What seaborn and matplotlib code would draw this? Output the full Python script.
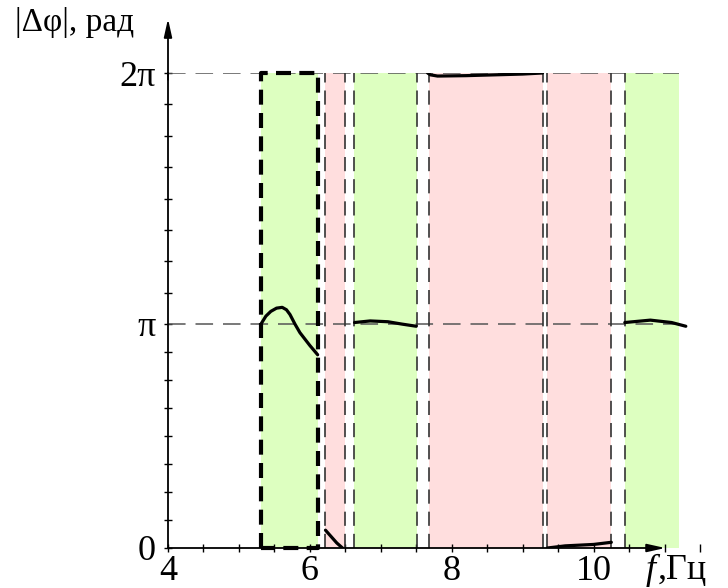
import numpy as np
import pandas as pd
import matplotlib
matplotlib.use("Agg")
import matplotlib.pyplot as plt
from matplotlib.ticker import FixedLocator, MultipleLocator
import seaborn as sns

PI = np.pi

# ---------------- data ----------------
x_ticks = [4, 6, 8, 10]
y_ticks = [0, PI, 2 * PI]
y_tick_labels = ["0", "π", "2π"]

# shaded frequency bands (start, end)
green_bands = [(5.31, 6.11), (6.62, 7.51), (10.44, 11.21)]
pink_bands = [(6.21, 6.49), (7.68, 9.28), (9.35, 10.25)]
band_edges = [6.21, 6.49, 6.62, 7.51, 7.68, 9.28, 9.35, 10.25, 10.44]
bold_band = (5.31, 6.11)

# |Δφ| curve segments
seg1_f = [5.31, 5.38, 5.45, 5.53, 5.61, 5.67, 5.72, 5.79, 5.86, 5.93, 6.00, 6.11]
seg1_v = [3.14, 3.24, 3.30, 3.34, 3.35, 3.32, 3.26, 3.14, 3.02, 2.93, 2.84, 2.71]
seg2_f = [6.22, 6.30, 6.38, 6.46]
seg2_v = [0.25, 0.16, 0.07, 0.00]
seg3_f = [6.63, 6.85, 7.10, 7.30, 7.50]
seg3_v = [3.16, 3.18, 3.17, 3.14, 3.11]
seg4_f = [7.66, 7.70, 7.80, 8.20, 8.60, 9.00, 9.28]
seg4_v = [6.30, 6.26, 6.245, 6.25, 6.26, 6.27, 6.29]
seg5_f = [9.35, 9.60, 10.00, 10.25]
seg5_v = [0.00, 0.03, 0.05, 0.08]
seg6_f = [10.44, 10.80, 11.10, 11.30]
seg6_v = [3.16, 3.19, 3.16, 3.11]

segments = [(seg1_f, seg1_v), (seg2_f, seg2_v), (seg3_f, seg3_v),
            (seg4_f, seg4_v), (seg5_f, seg5_v), (seg6_f, seg6_v)]
frames = []
for i, (f, v) in enumerate(segments):
    frames.append(pd.DataFrame({"f": f, "v": v, "seg": i}))
df = pd.concat(frames, ignore_index=True)

# ---------------- style ----------------
sns.set_theme(style="white")
plt.rcParams["font.family"] = ["Liberation Serif", "DejaVu Serif"]

W, H = 728, 588
fig = plt.figure(figsize=(W / 100, H / 100), dpi=100)
ax = fig.add_axes([168 / W, 40 / H, (700 - 168) / W, (548 - 73) / H])

# piecewise-linear y scale (0..π and π..2π have different lengths)
ypts = [0, PI, 2 * PI]
ppts = [0, 224, 475]
def fwd(y):
    return np.interp(y, ypts, ppts)
def inv(p):
    return np.interp(p, ppts, ypts)
ax.set_yscale("function", functions=(fwd, inv))

ax.set_xlim(4, 11.5)
ax.set_ylim(0, 2 * PI)

green = "#DDFFC0"
pink = "#FFDEDE"
for a, b in green_bands:
    ax.axvspan(a, b, ymin=0, ymax=1, color=green, lw=0, zorder=0)
for a, b in pink_bands:
    ax.axvspan(a, b, ymin=0, ymax=1, color=pink, lw=0, zorder=0)

# horizontal dashed reference lines
for yv in [PI, 2 * PI]:
    ax.plot([4, 11.21], [yv, yv], color="#555555", lw=1.1,
            dashes=(11.5, 6.5), zorder=1)

# thin dashed band edges
for xe in band_edges:
    ax.plot([xe, xe], [0, 2 * PI], color="#333333", lw=1.2,
            dashes=(8.5, 4.8), zorder=2)

# bold dashed rectangle
a, b = bold_band
ax.plot([a, a, b, b, a], [0, 2 * PI, 2 * PI, 0, 0], color="black",
        lw=3, dashes=(3.6, 2.0), zorder=3, clip_on=False)

# curves
sns.lineplot(data=df, x="f", y="v", units="seg", estimator=None, sort=False,
             color="black", lw=2.3, ax=ax, zorder=4, legend=False)

# axes
for s in ["top", "right"]:
    ax.spines[s].set_visible(False)
ax.spines["left"].set_color("black")
ax.spines["bottom"].set_color("black")
ax.spines["left"].set_linewidth(1.3)
ax.spines["bottom"].set_linewidth(1.3)
ax.spines["bottom"].set_bounds(4, 10.9)
ax.spines["left"].set_zorder(5)
ax.spines["bottom"].set_zorder(5)

ax.annotate("", xy=(11.05, 0), xytext=(10.8, 0), xycoords="data",
            arrowprops=dict(arrowstyle="-|>,head_length=0.9,head_width=0.2",
                            color="black", lw=1.3), annotation_clip=False)
ax.annotate("", xy=(0, 1.12), xytext=(0, 0.98), xycoords="axes fraction",
            arrowprops=dict(arrowstyle="-|>,head_length=0.9,head_width=0.2",
                            color="black", lw=1.3), annotation_clip=False)

ax.set_xticks(x_ticks)
ax.set_xticklabels([str(t) for t in x_ticks])
ax.xaxis.set_minor_locator(MultipleLocator(0.5))
ax.set_yticks(y_ticks)
ax.set_yticklabels(y_tick_labels)
ax.yaxis.set_minor_locator(FixedLocator([k * PI / 8 for k in range(17)]))
ax.tick_params(axis="both", which="both", direction="inout", length=6,
               width=1, color="black", labelsize=26, labelcolor="black",
               bottom=True, left=True)
ax.tick_params(axis="x", which="major", pad=2)
ax.tick_params(axis="y", which="major", pad=6)
ax.set_xlabel("")
ax.set_ylabel("")

fig.text(15 / W, 1 - 22 / H, "|Δφ|, рад", fontsize=24, ha="left",
         va="center", color="black")
fig.text(646 / W, 1 - 570 / H, "f", fontsize=26, style="italic",
         ha="left", va="center", color="black")
fig.text(658 / W, 1 - 570 / H, ",Гц", fontsize=26, ha="left",
         va="center", color="black")

fig.savefig("out.png", dpi=100)
